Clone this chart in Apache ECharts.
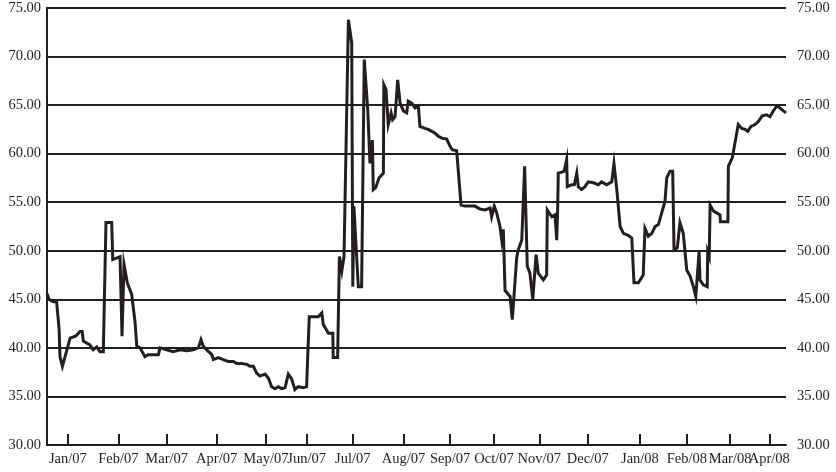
<!DOCTYPE html>
<html>
<head>
<meta charset="utf-8">
<script src="https://cdn.jsdelivr.net/npm/echarts@6/dist/echarts.min.js"></script>
<style>
html,body{margin:0;padding:0;background:#fff;}
#chart{width:836px;height:472px;}
</style>
</head>
<body>
<div id="chart"></div>
<script>
// Trading-day position (x) and price (y) of each vertex of the series
const days = [0,0.9,2.4,4.4,5.5,5.9,7.0,10.5,13.0,15.0,16.0,16.5,19.5,21.0,22.6,24.1,25.6,26.8,29.4,29.9,33.2,34.1,35.0,36.5,38.5,40.0,40.8,42.3,44.5,46.0,48.3,50.6,51.4,54.4,57.4,60.5,63.5,66.5,68.8,70.0,71.0,72.6,74.9,75.6,77.9,80.1,82.4,84.7,86.2,88.5,90.8,92.3,93.8,95.3,96.8,99.1,100.6,102.1,103.6,105.1,106.7,108.2,109.7,111.2,112.7,114.2,116.5,118.0,119.2,121.0,123.3,124.9,125.6,127.9,129.9,130.1,132.1,132.9,134.0,135.0,137.0,138.5,139.0,139.5,140.0,141.5,143.0,144.2,145.8,146.8,147.9,148.3,149.4,150.9,152.9,153.1,154.1,155.1,156.4,157.1,158.2,159.4,160.5,162.0,163.5,164.2,165.8,167.3,168.8,169.5,171.8,173.3,174.9,176.4,177.9,179.4,181.7,183.2,184.2,186.2,187.0,188.2,190.0,192.3,194.5,196.8,199.1,201.4,202.1,203.3,204.4,205.9,206.7,207.4,208.2,210.5,211.5,213.5,214.2,215.8,217.1,218.3,219.5,220.8,222.3,223.3,225.6,227.1,227.4,229.4,230.9,231.7,232.1,232.4,234.0,235.1,236.2,236.5,238.5,239.7,240.8,241.5,243.0,244.5,246.0,248.3,250.6,252.1,254.4,256.7,257.7,259.0,260.5,262.0,264.2,265.8,266.8,268.8,271.0,271.8,273.3,274.9,276.4,277.9,279.4,280.9,281.7,283.2,284.4,285.0,286.5,287.7,289.2,290.8,292.3,293.8,294.9,296.4,296.8,298.3,300.1,300.3,301.0,301.4,302.9,304.4,305.9,306.1,309.5,309.7,310.5,311.5,312.7,314.2,315.8,317.3,318.5,320.0,321.8,323.3,325.1,327.1,328.6,330.1,331.7,333.2,334.7,335.9];
const prices = [45.6,45.0,44.8,44.7,41.9,39.1,38.1,41.0,41.2,41.7,41.7,40.7,40.3,39.8,40.1,39.6,39.6,52.9,52.9,49.1,49.4,41.2,48.6,46.7,45.5,42.7,40.2,40.0,39.1,39.3,39.3,39.3,40.0,39.8,39.6,39.8,39.7,39.8,40.0,40.85,40.2,39.8,39.3,38.8,39.0,38.8,38.6,38.6,38.4,38.4,38.3,38.1,38.1,37.4,37.1,37.3,36.9,36.0,35.8,36.0,35.8,35.9,37.3,36.8,35.7,36.0,35.9,36.0,43.2,43.2,43.2,43.6,42.4,41.5,41.5,39.0,39.0,49.4,47.9,49.4,73.8,71.4,46.3,54.6,54.6,46.3,46.3,69.7,64.5,59.0,61.4,56.3,56.5,57.5,58.0,67.1,66.6,63.0,64.2,63.5,63.8,67.6,65.2,64.4,64.2,65.4,65.2,64.7,64.9,62.8,62.6,62.5,62.3,62.1,61.8,61.6,61.5,60.75,60.4,60.3,60.4,54.7,54.6,54.6,54.6,54.3,54.2,54.4,53.5,54.6,53.9,52.5,51.1,52.2,45.9,45.3,42.9,49.3,50.1,51.1,58.7,48.4,47.7,45.0,49.6,47.7,47.0,47.5,54.2,53.5,53.7,51.1,54.2,58.0,58.1,58.2,59.4,56.6,56.8,56.8,58.0,56.6,56.3,56.6,57.1,57.0,56.8,57.1,56.8,57.1,59.0,56.3,52.5,51.8,51.6,51.3,46.7,46.7,47.5,52.3,51.5,51.8,52.5,52.7,53.9,55.1,57.5,58.2,58.2,50.1,50.3,52.9,51.8,48.0,47.4,46.3,45.3,49.9,47.0,46.5,46.3,49.9,49.4,54.7,54.1,53.9,53.7,53.0,53.0,58.7,58.9,59.6,61.1,63.0,62.6,62.5,62.3,62.8,63.0,63.3,63.9,64.0,63.8,64.4,64.9,64.7,64.4,64.2];
// Month tick positions (trading-day units) and their labels
const monthTicks = [9.5,32.4,54.4,77.1,99.5,118,139,162,183.2,203.2,223.8,245.8,269.5,290.8,310.5,328.3];
const monthLabels = ['Jan/07','Feb/07','Mar/07','Apr/07','May/07','Jun/07','Jul/07','Aug/07','Sep/07','Oct/07','Nov/07','Dec/07','Jan/08','Feb/08','Mar/08','Apr/08'];
const xMin = 0, xMax = 335.9;
const yMin = 30, yMax = 75, yStep = 5;

const ink = '#231f20';
const font = '"Liberation Serif","DejaVu Serif",serif';
const fs = 14.5;
const chart = echarts.init(document.getElementById('chart'), null, {renderer:'canvas'});
const data = days.map((d,i)=>[d,prices[i]]);
const monthFmt = v => { const i = monthTicks.indexOf(v); return i >= 0 ? monthLabels[i] : ''; };
const lastTick = monthTicks.slice(-1);
const otherTicks = monthTicks.slice(0, -1);
const labelStyle = {color:ink,fontFamily:font,fontSize:fs};
const yAxisCommon = {
  type:'value', min:yMin, max:yMax, interval:yStep,
  axisLine:{show:true,lineStyle:{color:ink,width:2}},
  axisTick:{show:false},
  axisLabel:Object.assign({showMinLabel:true,showMaxLabel:true,formatter:v=>v.toFixed(2)}, labelStyle)
};
chart.setOption({
  animation:false,
  backgroundColor:'#fff',
  grid:{left:47,right:50,top:8,bottom:27,containLabel:false},
  xAxis:[{
    type:'value', min:xMin, max:xMax, position:'bottom',
    axisLine:{show:true,onZero:false,lineStyle:{color:ink,width:2}},
    axisTick:{show:true,inside:true,length:11,customValues:monthTicks,lineStyle:{color:ink,width:2}},
    axisLabel:Object.assign({show:true,customValues:otherTicks,margin:7,showMinLabel:true,showMaxLabel:true,formatter:monthFmt}, labelStyle),
    splitLine:{show:false}
  },{
    type:'value', min:xMin, max:xMax, position:'bottom', offset:0,
    axisLine:{show:false,onZero:false},
    axisTick:{show:false},
    axisLabel:Object.assign({show:true,customValues:lastTick,margin:7,showMinLabel:true,showMaxLabel:true,formatter:monthFmt}, labelStyle),
    splitLine:{show:false}
  }],
  yAxis:[
    Object.assign({}, yAxisCommon, {position:'left',axisLabel:Object.assign({},yAxisCommon.axisLabel,{margin:6}),
      splitLine:{show:true,lineStyle:{color:ink,width:2}}}),
    Object.assign({}, yAxisCommon, {position:'right',axisLabel:Object.assign({},yAxisCommon.axisLabel,{margin:11}),
      splitLine:{show:false}})
  ],
  series:[{
    type:'line', data:data, xAxisIndex:0, yAxisIndex:0, showSymbol:false, symbol:'none',
    lineStyle:{color:ink,width:3,join:'miter'}
  }]
});
</script>
</body>
</html>
